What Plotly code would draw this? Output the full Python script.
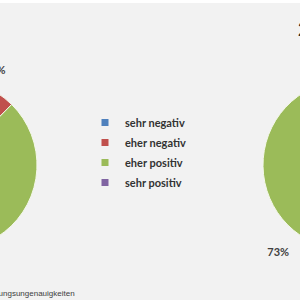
import plotly.graph_objects as go

# ---- data ----
categories = ["sehr negativ", "eher negativ", "eher positiv", "sehr positiv"]
left_values = [1, 15, 81, 3]
right_values = [1, 22, 73, 4]
colors = ["#4F81BD", "#C0504D", "#9BBB59", "#8064A2"]
titles = ["2012", "2014"]
footnote = "Abweichungen von 100% aufgrund von Rundungsungenauigkeiten"

# ---- layout constants (pixels) ----
FIG_W, FIG_H = 700, 300
SHIFT = 200          # page is shifted left so only the middle crop is visible
MT = 3
PH = FIG_H - MT
R_PIE = 85
label_radii = [94, 99]
centers = [(-48, 165), (348, 165)]
rotations = [-13, 0]
FONT = "Lato"


def px_x(vx):
    return (vx + SHIFT) / FIG_W


def px_y(vy):
    return (FIG_H - vy) / PH


def dom(cx, cy, rad):
    return dict(x=[px_x(cx - rad), px_x(cx + rad)],
                y=[px_y(cy + rad), px_y(cy - rad)])


fig = go.Figure()

for values, (cx, cy), rot, rl in zip([left_values, right_values], centers, rotations, label_radii):
    fig.add_trace(go.Pie(
        values=values, labels=categories, sort=False, direction="clockwise",
        rotation=rot,
        marker=dict(colors=colors, line=dict(color="#f4f8ea", width=1)),
        textinfo="none", showlegend=False, hoverinfo="skip",
        domain=dom(cx, cy, R_PIE)))
    fig.add_trace(go.Pie(
        values=values, labels=categories, sort=False, direction="clockwise",
        rotation=rot,
        marker=dict(colors=["rgba(0,0,0,0)"] * len(values), line=dict(width=0)),
        texttemplate="%{value}%", textposition="outside",
        textfont=dict(family=FONT, size=11, color="#404040", weight="bold"),
        showlegend=False, hoverinfo="skip",
        domain=dom(cx, cy, rl)))

for cat, col in zip(categories, colors):
    fig.add_trace(go.Scatter(
        x=[None], y=[None], mode="markers", name=cat, legendgroup=cat,
        marker=dict(symbol="square", size=7, color=col)))

fig.update_layout(
    width=FIG_W, height=FIG_H,
    margin=dict(l=0, r=0, t=MT, b=0),
    paper_bgcolor="white", plot_bgcolor="rgba(0,0,0,0)",
    xaxis=dict(visible=False), yaxis=dict(visible=False),
    showlegend=True,
    legend=dict(x=px_x(85), y=px_y(108), xanchor="left", yanchor="top",
                font=dict(family=FONT, size=11, color="#333333", weight="bold"),
                bgcolor="rgba(0,0,0,0)", tracegroupgap=1, traceorder="grouped"),
    shapes=[dict(type="rect", xref="paper", yref="paper", x0=0, x1=1, y0=0, y1=1,
                 fillcolor="#f2f2f2", line=dict(width=0), layer="below")],
    annotations=[
        dict(text=titles[0], x=px_x(centers[0][0] - 54), y=px_y(28.5),
             xref="paper", yref="paper", xanchor="left", yanchor="middle",
             showarrow=False, font=dict(family=FONT, size=18, color="#262626", weight="bold")),
        dict(text=titles[1], x=px_x(centers[1][0] - 52), y=px_y(28.5),
             xref="paper", yref="paper", xanchor="left", yanchor="middle",
             showarrow=False, font=dict(family=FONT, size=18, color="#262626", weight="bold")),
        dict(text=footnote, x=px_x(77), y=px_y(293.5),
             xref="paper", yref="paper", xanchor="right", yanchor="middle",
             showarrow=False, font=dict(family="Liberation Sans", size=8, color="#404040")),
    ],
)

post = ("var d=document.getElementById('{plot_id}');"
        "d.style.marginLeft='-%dpx';"
        "document.body.style.margin='0';"
        "document.body.style.overflow='hidden';" % SHIFT)

fig.write_html("out.html", config={"displayModeBar": False}, post_script=post)
